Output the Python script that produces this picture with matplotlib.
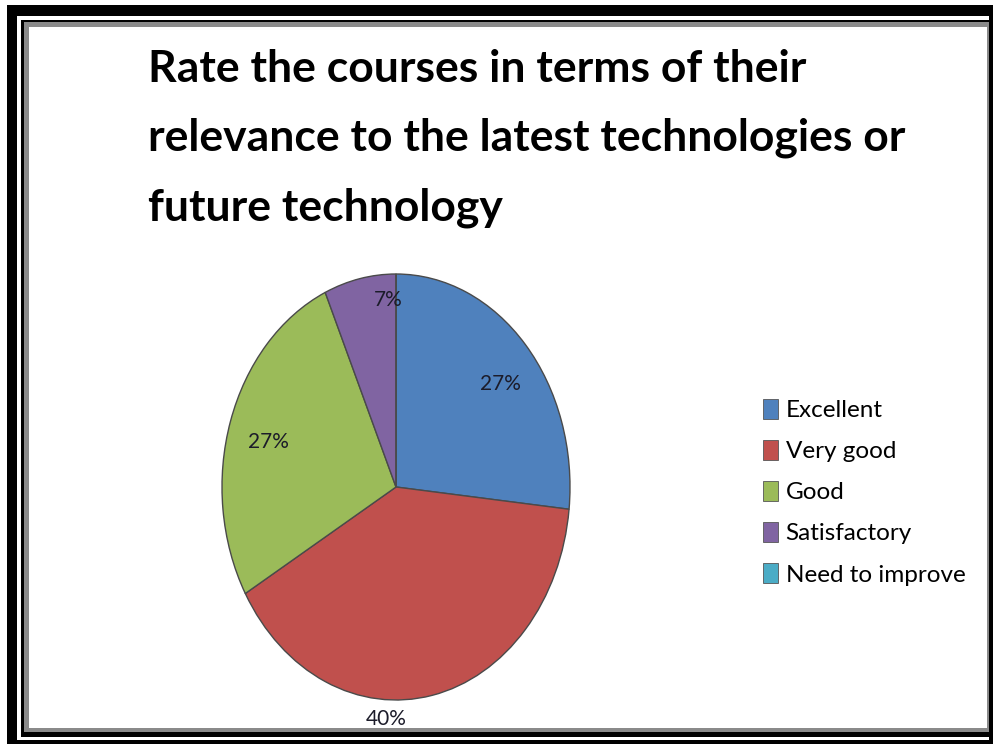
import numpy as np
import matplotlib.pyplot as plt
from matplotlib.patches import Rectangle

W, H = 993, 744

categories = ['Excellent', 'Very good', 'Good', 'Satisfactory', 'Need to improve']
counts = [4, 6, 4, 1, 0]
colors = ['#4F81BD', '#C0504D', '#9BBB59', '#8064A2', '#4BACC6']
title_lines = ['Rate the courses in terms of their',
               'relevance to the latest technologies or',
               'future technology']

fig = plt.figure(figsize=(W / 100, H / 100), dpi=100)


def box(x0, y0, x1, y1, color):
    # rectangle given in pixel coords from the top left
    fig.add_artist(Rectangle((x0 / W, 1 - y1 / H), (x1 - x0) / W, (y1 - y0) / H,
                             transform=fig.transFigure, facecolor=color,
                             edgecolor='none', zorder=0))


# double frame round the picture
box(7, 5, 1010, 760, 'black')
box(17, 16, 989, 740, 'white')
box(21, 20, 993, 737, 'black')
box(24, 22, 989, 732, '#8a8a8a')
box(29, 27, 987, 728, 'white')

for i, line in enumerate(title_lines):
    fig.text(148 / W, 1 - (82 + 69 * i) / H, line, fontsize=32, fontweight='bold',
             family='Lato', ha='left', va='baseline', color='black')

# pie is stretched into an ellipse in the original
cx, cy, rx, ry = 396, 487, 174, 213
ax = fig.add_axes([(cx - rx) / W, 1 - (cy + ry) / H, 2 * rx / W, 2 * ry / H])
wedges, _ = ax.pie(counts, colors=colors, startangle=90, counterclock=False,
                   wedgeprops=dict(edgecolor='#4a4a4a', linewidth=1.0))
ax.set_aspect('auto')
ax.set_xlim(-1, 1)
ax.set_ylim(-1, 1)
ax.axis('off')

total = sum(counts)
dist = [0.77, 1.09, 0.76, 0.88, 0.8]
shift = [-3, -15, 2, -9, 0]
for w, c, d, s in zip(wedges, counts, dist, shift):
    if c == 0:
        continue
    mid = np.deg2rad((w.theta1 + w.theta2) / 2 + s)
    ax.text(d * np.cos(mid), d * np.sin(mid), f'{round(100 * c / total)}%',
            ha='center', va='center', fontsize=15, family='Lato', color='#1c1c2a')

leg = fig.legend(wedges, categories, loc='upper left',
                 bbox_to_anchor=(751 / W, 1 - 387 / H), frameon=False,
                 prop={'family': 'Lato', 'size': 17.5}, handlelength=0.62,
                 handleheight=0.85, handletextpad=0.3, labelspacing=0.78,
                 borderpad=0)
for h in leg.legend_handles:
    h.set_edgecolor('#555555')
    h.set_linewidth(0.6)

fig.savefig('out.png', dpi=100)
